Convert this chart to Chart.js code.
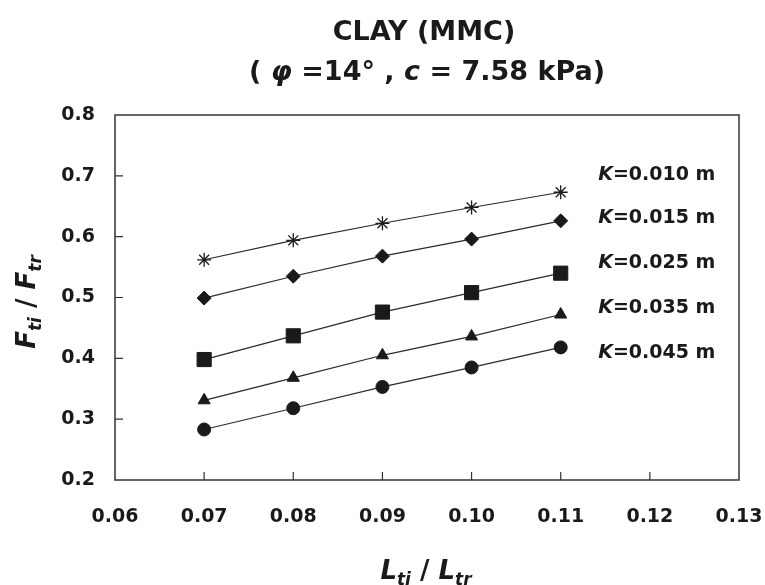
<!DOCTYPE html>
<html>
<head>
<meta charset="utf-8">
<script src="https://cdn.jsdelivr.net/npm/chart.js@4.4.1/dist/chart.umd.min.js"></script>
<style>
  html, body { margin: 0; padding: 0; background: #fff; }
  #wrap { width: 765px; height: 585px; }
</style>
</head>
<body>
<div id="wrap"><canvas id="chart" width="765" height="585"></canvas></div>
<script>
// L_ti / L_tr values
const ratios = [0.07, 0.08, 0.09, 0.10, 0.11];

// F_ti / F_tr for each K
const k010 = [0.562, 0.594, 0.622, 0.648, 0.673];
const k015 = [0.499, 0.535, 0.568, 0.596, 0.626];
const k025 = [0.398, 0.437, 0.476, 0.508, 0.540];
const k035 = [0.331, 0.368, 0.405, 0.436, 0.472];
const k045 = [0.283, 0.318, 0.353, 0.385, 0.418];

const seriesNames = ["0.010", "0.015", "0.025", "0.035", "0.045"];
const xTicks = [0.06, 0.07, 0.08, 0.09, 0.10, 0.11, 0.12, 0.13];
const yTicks = [0.2, 0.3, 0.4, 0.5, 0.6, 0.7, 0.8];

const FONT = "'DejaVu Sans', sans-serif";
const INK = "#1a1a1a";

function pts(ys) {
    return ratios.map((x, i) => ({ x: x, y: ys[i] }));
}

function makeSet(name, ys, style, radius) {
    return {
        label: "K=" + name + " m",
        data: pts(ys),
        borderColor: "#2a2a2a",
        borderWidth: 1.2,
        backgroundColor: INK,
        pointBackgroundColor: INK,
        pointBorderColor: INK,
        pointBorderWidth: style === "star" ? 1.3 : 1,
        pointStyle: style,
        pointRadius: radius,
        tension: 0
    };
}

function drawRuns(ctx, runs, cx, baseline) {
    let total = 0;
    runs.forEach(r => { ctx.font = r.font; total += ctx.measureText(r.text).width; });
    let x = cx - total / 2;
    runs.forEach(r => {
        ctx.font = r.font;
        ctx.fillText(r.text, x, baseline + (r.dy || 0));
        x += ctx.measureText(r.text).width;
    });
}

const decorations = {
    id: "decorations",
    afterDraw(chart) {
        const ctx = chart.ctx;
        const a = chart.chartArea;
        const xs = chart.scales.x;
        const ys = chart.scales.y;
        ctx.save();

        // frame
        ctx.strokeStyle = "#333";
        ctx.lineWidth = 1.5;
        ctx.strokeRect(a.left, a.top, a.right - a.left, a.bottom - a.top);

        // inward tick marks
        ctx.lineWidth = 1.2;
        ctx.beginPath();
        yTicks.slice(1, -1).forEach(v => {
            const p = ys.getPixelForValue(v);
            ctx.moveTo(a.left, p);
            ctx.lineTo(a.left + 8, p);
        });
        xTicks.slice(1, -1).forEach(v => {
            const p = xs.getPixelForValue(v);
            ctx.moveTo(p, a.bottom);
            ctx.lineTo(p, a.bottom - 8);
        });
        ctx.stroke();

        ctx.fillStyle = INK;
        ctx.textBaseline = "alphabetic";
        ctx.textAlign = "left";

        // title
        const tb = "bold 27px " + FONT;
        const ti = "italic bold 27px " + FONT;
        drawRuns(ctx, [{ text: "CLAY (MMC)", font: tb }], 424, 40);
        drawRuns(ctx, [
            { text: "( ", font: tb },
            { text: "\u03c6", font: ti },
            { text: " =14\u00b0 , ", font: tb },
            { text: "c", font: ti },
            { text: " = 7.58 kPa)", font: tb }
        ], 427, 80);

        // axis titles
        const ab = "bold 26px " + FONT;
        const ai = "italic bold 26px " + FONT;
        const sub = "italic bold 17px " + FONT;
        drawRuns(ctx, [
            { text: "L", font: ai },
            { text: "ti", font: sub, dy: 6 },
            { text: " / ", font: ab },
            { text: "L", font: ai },
            { text: "tr", font: sub, dy: 6 }
        ], 426, 579);

        ctx.save();
        ctx.translate(35, 302);
        ctx.rotate(-Math.PI / 2);
        drawRuns(ctx, [
            { text: "F", font: ai },
            { text: "ti", font: sub, dy: 6 },
            { text: " / ", font: ab },
            { text: "F", font: ai },
            { text: "tr", font: sub, dy: 6 }
        ], 0, 0);
        ctx.restore();

        // series labels at the right
        const labelAt = [0.701, 0.631, 0.557, 0.483, 0.409];
        const lx = xs.getPixelForValue(0.1142);
        ctx.textBaseline = "middle";
        seriesNames.forEach((n, i) => {
            const py = ys.getPixelForValue(labelAt[i]);
            ctx.font = "italic bold 19px " + FONT;
            ctx.fillText("K", lx, py);
            const w = ctx.measureText("K").width;
            ctx.font = "bold 19px " + FONT;
            ctx.fillText("=" + n + " m", lx + w, py);
        });

        ctx.restore();
    }
};

new Chart(document.getElementById("chart"), {
    type: "line",
    data: {
        datasets: [
            makeSet(seriesNames[0], k010, "star", 7),
            makeSet(seriesNames[1], k015, "rectRot", 7),
            makeSet(seriesNames[2], k025, "rect", 10),
            makeSet(seriesNames[3], k035, "triangle", 7),
            makeSet(seriesNames[4], k045, "circle", 6.5)
        ]
    },
    options: {
        responsive: false,
        animation: false,
        layout: { padding: { left: 0, top: 115, right: 26, bottom: 0 } },
        plugins: {
            legend: { display: false },
            title: { display: false },
            tooltip: { enabled: false }
        },
        scales: {
            x: {
                type: "linear",
                min: 0.06,
                max: 0.13,
                afterFit(scale) {
                    scale.height = 105;
                    scale.paddingLeft = 0;
                    scale.paddingRight = 0;
                },
                afterBuildTicks(scale) { scale.ticks = xTicks.map(v => ({ value: v })); },
                grid: { display: false, drawTicks: false },
                border: { display: false },
                ticks: {
                    padding: 26,
                    color: INK,
                    font: { family: FONT, size: 19, weight: "bold" },
                    callback: v => v.toFixed(2)
                }
            },
            y: {
                type: "linear",
                min: 0.2,
                max: 0.8,
                afterFit(scale) {
                    scale.width = 115;
                    scale.paddingTop = 0;
                    scale.paddingBottom = 0;
                },
                afterBuildTicks(scale) { scale.ticks = yTicks.map(v => ({ value: v })); },
                grid: { display: false, drawTicks: false },
                border: { display: false },
                ticks: {
                    padding: 20,
                    color: INK,
                    font: { family: FONT, size: 19, weight: "bold" },
                    callback: v => v.toFixed(1)
                }
            }
        }
    },
    plugins: [decorations]
});
</script>
</body>
</html>
